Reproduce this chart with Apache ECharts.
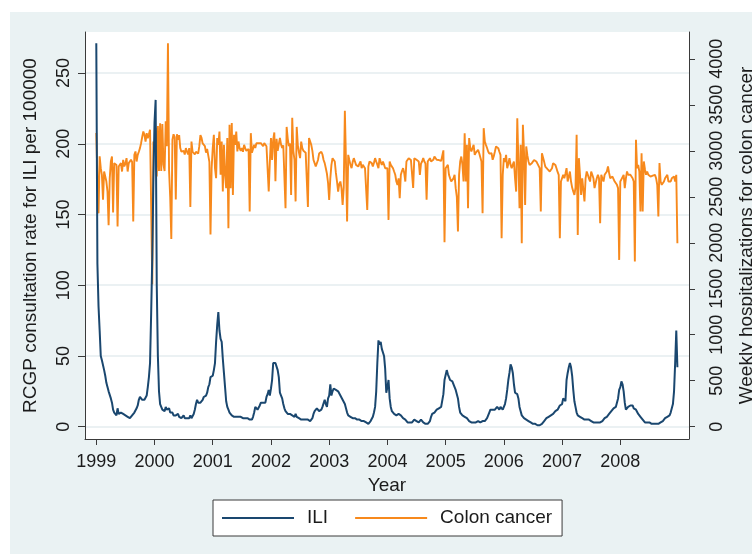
<!DOCTYPE html>
<html>
<head>
<meta charset="utf-8">
<script src="https://cdn.jsdelivr.net/npm/echarts@6/dist/echarts.min.js"></script>
<style>
  html, body { margin: 0; padding: 0; background: #ffffff; }
  #panel { position: absolute; left: 10px; top: 12px; width: 742px; height: 542px; background: #eaf2f3; }
  #chart { position: absolute; left: 0; top: 0; width: 752px; height: 554px; }
</style>
</head>
<body>
<div id="panel"></div>
<div id="chart"></div>
<script>
// Weekly series, 52 weeks per year, starting with the first week of 1999
const START_YEAR = 1999;
const WEEKS_PER_YEAR = 52;

const YEAR_TICKS = [1999, 2000, 2001, 2002, 2003, 2004, 2005, 2006, 2007, 2008];
const ILI_TICKS = [0, 50, 100, 150, 200, 250];
const HOSP_TICKS = [0, 500, 1000, 1500, 2000, 2500, 3000, 3500, 4000];

// RCGP consultation rate for ILI per 100000 (left axis)
const ILI_1999 = [271,115,85,68,50,47,46,40,36,31,28,25,24,20,17,12,10,9,8,13,9,8,10,9,9,8,8,7,7,7,6,7,8,8,10,11,13,15,19,21,20,19,18,19,20,22,28,35,45,80,120,175];
const ILI_2000 = [215,231,100,50,25,16,14,12,13,11,14,12,11,13,10,9,10,8,9,8,7,9,7,8,6,7,8,6,7,6,7,6,8,6,7,9,12,16,19,17,18,17,16,19,21,20,22,24,28,30,35,36];
const ILI_2001 = [36,40,45,60,72,81,68,62,60,48,38,28,18,14,12,10,9,8,9,7,8,7,8,7,6,7,6,6,7,6,5,6,5,5,6,5,7,10,14,15,12,13,15,17,16,17,18,17,21,23,26,22];
const ILI_2002 = [27,33,45,46,45,45,40,35,24,22,20,16,13,11,10,9,10,9,10,8,9,7,9,7,6,6,6,5,6,5,5,5,6,5,5,4,5,6,9,11,12,13,12,11,11,12,14,15,19,16,14,20];
const ILI_2003 = [22,30,22,25,27,27,26,25,25,24,22,21,19,18,16,13,10,8,8,7,7,6,6,6,5,5,5,5,4,4,4,4,3,3,2,2,3,4,5,7,10,14,25,45,61,58,60,55,56,50,41,24];
const ILI_2004 = [28,33,20,14,11,10,9,8,8,9,9,8,8,7,6,5,5,4,3,2,3,4,3,4,5,5,4,3,3,4,5,4,3,3,2,3,2,2,4,7,9,10,10,11,12,12,13,14,14,15,23,33];
const ILI_2005 = [33,40,37,35,33,34,32,31,28,26,27,20,14,10,9,8,7,7,6,6,5,4,4,3,3,3,3,3,3,4,3,3,3,4,3,4,5,6,8,10,12,12,12,13,12,13,14,14,12,14,13,12];
const ILI_2006 = [14,16,20,26,33,38,44,42,38,30,24,25,23,20,14,11,8,7,6,5,5,4,4,3,3,2,2,2,2,1,1,1,1,1,2,2,4,5,6,6,7,7,8,8,9,10,11,12,12,12,15,16];
const ILI_2007 = [16,20,19,18,33,38,42,45,42,36,26,18,14,10,8,7,7,6,6,5,5,5,5,4,5,4,4,4,3,3,3,2,3,2,3,3,4,5,6,7,7,8,9,10,11,12,13,14,14,17,20,26];
const ILI_2008 = [28,32,30,25,17,12,13,14,13,15,14,15,13,14,12,11,9,8,7,6,5,4,3,3,3,3,3,2,2,2,2,2,2,2,2,2,3,3,4,5,6,6,7,7,8,10,11,16,25,45,68,42];

// Weekly hospitalizations for colon cancer (right axis)
const COLON_1999 = [3195,2700,2320,2940,2811,2739,2467,2775,2793,2666,2557,2190,2700,2884,2938,2330,2866,2880,2847,2177,2830,2850,2866,2775,2902,2830,2860,2920,2775,2866,2884,2902,2880,2231,2956,2993,2884,2956,2990,3029,3083,3150,3210,3174,3100,3192,3138,3180,3228,3210,1550,3100];
const COLON_2000 = [3000,3250,2720,3270,2780,3300,2780,3290,2850,2780,3320,3050,4170,2780,2500,2040,3120,3180,3150,2470,3180,3120,3170,3030,2990,3010,3000,2960,3030,2990,2960,3030,2390,3100,2990,3010,2960,2990,3000,2970,3050,3170,3140,3080,3100,3050,2980,3020,2950,2880,2090,2810];
const COLON_2001 = [3029,3174,2811,2702,3138,3065,3210,2739,3101,2557,3065,2739,2594,3138,2158,3283,2594,3301,2521,3174,3065,3210,2993,3101,3029,3000,3030,2990,3065,3029,3000,3010,3020,2340,3192,2980,3000,3065,3030,3083,3065,3083,3065,3083,3065,3050,3083,3065,3050,3040,2557,2880];
const COLON_2002 = [3140,2900,3120,3200,2670,3130,3000,2990,3140,3070,3030,3060,3040,2376,3260,3130,3050,3080,2520,3360,3000,2900,2450,3260,3060,2980,2920,3100,3030,3000,3020,2980,3000,2390,3140,3138,3065,3000,2900,2866,2830,2811,2900,2970,2990,2990,2960,2900,2866,2811,2750,2650];
const COLON_2003 = [2467,2700,2847,2920,2900,2884,2760,2666,2557,2640,2666,2594,2412,2600,3435,2884,2231,2956,2900,2847,2811,2880,2920,2884,2847,2860,2829,2860,2884,2811,2847,2830,2811,2793,2358,2829,2884,2870,2866,2829,2870,2920,2884,2850,2811,2920,2880,2847,2884,2850,2811,2811];
const COLON_2004 = [2811,2249,2884,2847,2830,2811,2775,2740,2666,2630,2700,2485,2739,2780,2811,2760,2666,2884,2900,2920,2938,2900,2884,2596,2920,2910,2902,2890,2884,2739,2860,2884,2920,2884,2860,2467,2884,2900,2920,2884,2890,2902,2938,2920,2902,2920,2900,2884,2890,2902,3005,2006];
const COLON_2005 = [2811,2830,2847,2739,2700,2666,2666,2700,2739,2594,2500,2122,2739,2884,2938,2850,2666,3192,2666,3065,2376,3138,3029,2993,3030,3065,2956,2980,2993,3011,2974,2960,2884,2322,3246,3101,3065,3030,2993,2970,2956,2974,2902,2940,2993,3047,3040,3029,2990,2956,2050,2739];
const COLON_2006 = [2920,2880,2956,2811,2860,2920,2847,2811,2850,2884,2700,2557,3355,2884,2376,3065,1995,3283,2993,2412,3047,2950,2884,2847,2860,2866,2884,2900,2920,2884,2860,2847,2811,2340,2974,2956,2880,2829,2811,2800,2793,2775,2790,2811,2866,2847,2847,2811,2770,2739,2050,2666];
const COLON_2007 = [2666,2739,2702,2750,2811,2666,2720,2775,2666,2600,2557,2521,2600,3174,2086,2920,2739,2521,2700,2702,2449,2700,2775,2739,2700,2666,2775,2740,2702,2594,2650,2702,2739,2700,2213,2739,2700,2666,2739,2750,2775,2829,2760,2702,2702,2720,2739,2666,2650,2630,2594,1814];
const COLON_2008 = [2666,2690,2702,2739,2594,2700,2775,2739,2720,2739,2739,2702,2666,1796,3119,2811,2847,2775,2340,2974,2340,2884,2800,2739,2775,2739,2750,2720,2739,2730,2720,2739,2700,2630,2285,2866,2666,2630,2650,2666,2702,2720,2739,2666,2680,2666,2702,2710,2720,2666,2739,1995];

const ILI = [].concat(ILI_1999, ILI_2000, ILI_2001, ILI_2002, ILI_2003,
                      ILI_2004, ILI_2005, ILI_2006, ILI_2007, ILI_2008);
const COLON = [].concat(COLON_1999, COLON_2000, COLON_2001, COLON_2002, COLON_2003,
                        COLON_2004, COLON_2005, COLON_2006, COLON_2007, COLON_2008);

// pair each weekly value with its position on the year axis
function weekly(values) {
  return values.map((v, i) => [START_YEAR + i / WEEKS_PER_YEAR, v]);
}

const FONT = '"Liberation Sans", Arial, Helvetica, sans-serif';
const TEXT = '#1b1b1b';
const AXIS = '#3a3a3a';
const NAVY = '#1a476f';
const ORANGE = '#f7891c';
const GRID = '#e4edef';

const chart = echarts.init(document.getElementById('chart'), null, { renderer: 'canvas' });

chart.setOption({
  animation: false,
  textStyle: { fontFamily: FONT },
  grid: {
    left: 85, right: 63, top: 32, bottom: 115,
    show: true, backgroundColor: '#ffffff', borderWidth: 0,
    containLabel: false,
    outerBoundsMode: 'none'
  },
  legend: {
    data: ['ILI', 'Colon cancer'],
    left: 213, top: 500,
    icon: 'rect',
    itemWidth: 72, itemHeight: 2, itemGap: 27,
    padding: [8, 10, 8, 9],
    backgroundColor: '#ffffff',
    borderColor: AXIS, borderWidth: 1, borderRadius: 0,
    textStyle: { fontFamily: FONT, fontSize: 19, color: TEXT, padding: [0, 0, 0, 8], lineHeight: 20 }
  },
  xAxis: {
    type: 'value',
    min: 1998.806, max: 2009.18,
    name: 'Year', nameLocation: 'middle', nameGap: 37,
    nameTextStyle: { fontFamily: FONT, fontSize: 19, color: TEXT },
    axisLine: { show: true, onZero: false, lineStyle: { color: AXIS, width: 1 } },
    axisTick: { show: true, length: 6, customValues: YEAR_TICKS, lineStyle: { color: AXIS } },
    axisLabel: { customValues: YEAR_TICKS, fontSize: 18, color: TEXT, margin: 14,
                 formatter: v => String(v) },
    splitLine: { show: false }
  },
  yAxis: [
    {
      type: 'value', position: 'left',
      min: -8.7, max: 279,
      name: 'RCGP consultation rate for ILI per 100000',
      nameLocation: 'middle', nameGap: 45,
      nameTextStyle: { fontFamily: FONT, fontSize: 19, color: TEXT },
      axisLine: { show: true, onZero: false, lineStyle: { color: AXIS, width: 1 } },
      axisTick: { show: true, length: 7, customValues: ILI_TICKS, lineStyle: { color: AXIS } },
      axisLabel: { customValues: ILI_TICKS, rotate: 90, fontSize: 18, color: TEXT, margin: 12,
                   formatter: v => String(v) },
      splitLine: { show: true, lineStyle: { color: GRID, width: 1.5 } }
    },
    {
      type: 'value', position: 'right',
      min: -133.8, max: 4292,
      name: 'Weekly hospitalizations for colon cancer',
      nameLocation: 'middle', nameGap: 48,
      nameTextStyle: { fontFamily: FONT, fontSize: 19, color: TEXT },
      axisLine: { show: true, onZero: false, lineStyle: { color: AXIS, width: 1 } },
      axisTick: { show: true, length: 6, customValues: HOSP_TICKS, lineStyle: { color: AXIS } },
      axisLabel: { customValues: HOSP_TICKS, rotate: 90, fontSize: 18, color: TEXT, margin: 19,
                   formatter: v => String(v) },
      splitLine: { show: false }
    }
  ],
  series: [
    {
      name: 'Colon cancer', type: 'line', yAxisIndex: 1,
      data: weekly(COLON),
      symbol: 'none', showSymbol: false,
      lineStyle: { color: ORANGE, width: 1.9 },
      itemStyle: { color: ORANGE }
    },
    {
      name: 'ILI', type: 'line', yAxisIndex: 0,
      data: weekly(ILI),
      symbol: 'none', showSymbol: false,
      lineStyle: { color: NAVY, width: 2 },
      itemStyle: { color: NAVY }
    }
  ]
});
</script>
</body>
</html>
